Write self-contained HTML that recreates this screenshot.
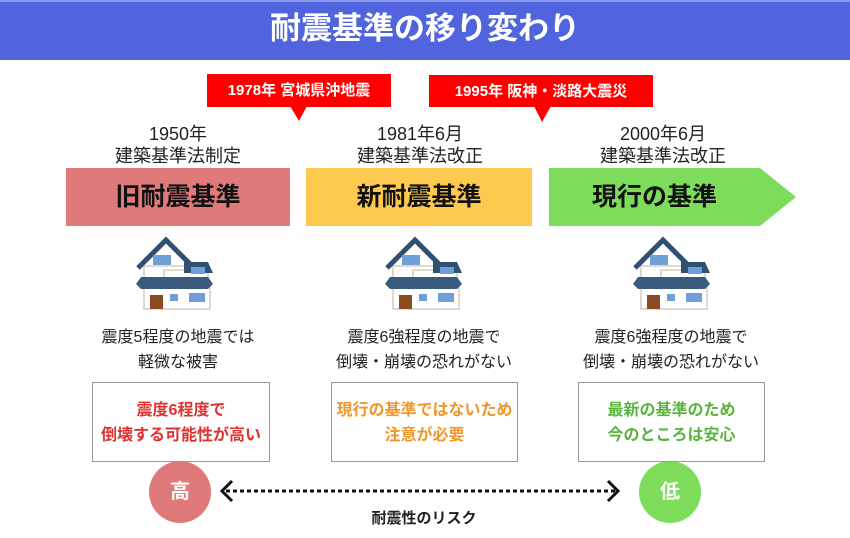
<!DOCTYPE html>
<html><head><meta charset="utf-8"><style>
body{margin:0;width:850px;height:538px;background:#fff;position:relative;overflow:hidden;font-family:"Liberation Sans","Noto Sans CJK JP",sans-serif;}
.a{position:absolute;text-align:center;white-space:nowrap;}
.hdr{left:0;top:0;width:850px;height:60px;background:#5064dd;border-top:2px solid #8896ea;box-sizing:border-box;}
.t{left:0;width:850px;top:9px;font-size:31px;font-weight:bold;color:#fff;line-height:40px;}
.cb{background:#f00;color:#fff;font-size:15px;font-weight:bold;line-height:33px;}
.yr{font-size:18px;line-height:22px;color:#222;width:240px;}
.bar{top:168px;height:58px;line-height:58px;font-size:25px;font-weight:bold;color:#111;}
.d{font-size:16px;line-height:25px;color:#222;width:260px;}
.bx{top:382px;height:80px;border:1.5px solid #999;box-sizing:border-box;font-size:16px;font-weight:bold;line-height:25px;padding-top:15px;}
.c{width:62px;height:62px;border-radius:50%;color:#fff;font-size:20px;font-weight:bold;line-height:62px;top:461px;}
</style></head><body>
<div class="a hdr"></div>
<div class="a t">耐震基準の移り変わり</div>
<div class="a cb" style="left:207px;top:74px;width:184px;height:33px;">1978年 宮城県沖地震</div>
<div class="a cb" style="left:429px;top:75px;width:224px;height:32px;">1995年 阪神・淡路大震災</div>
<svg class="a" style="left:0;top:0" width="850" height="538">
<polygon points="290,106 307,106 299,121" fill="#f00"/>
<polygon points="534,106 551,106 542,122" fill="#f00"/>
<polygon points="549,168 760,168 796,197 760,226 549,226" fill="#7ddc5a"/>
<defs><g id="h">
<polygon points="4,38 30,10 56,38" fill="#fff"/>
<rect x="8" y="30" width="44" height="12" fill="#fff" stroke="#d8ccb8" stroke-width="1.5"/>
<rect x="8" y="45" width="66" height="28" fill="#fff" stroke="#d8ccb8" stroke-width="1.5"/>
<rect x="28" y="34" width="44" height="12" fill="#fff" stroke="#d8ccb8" stroke-width="1.5"/>
<polyline points="2,32 30,4 58,32" fill="none" stroke="#2f5070" stroke-width="5"/>
<polygon points="48,26 72,26 77,37 48,37" fill="#2f5070"/>
<polygon points="0,48 5,41 72,41 77,48 72,53 5,53" fill="#3a5a7e"/>
<rect x="17" y="19" width="18" height="10" fill="#6f9fd8"/>
<rect x="55" y="31" width="14" height="7" fill="#6f9fd8"/>
<rect x="14" y="59" width="13" height="14" fill="#8a4a22"/>
<rect x="34" y="58" width="8" height="7" fill="#6f9fd8"/>
<rect x="53" y="57" width="16" height="9" fill="#6f9fd8"/>
</g></defs>
<use href="#h" x="136" y="236"/>
<use href="#h" x="385" y="236"/>
<use href="#h" x="633" y="236"/>
<circle cx="180" cy="492" r="31" fill="#e07a7a"/>
<circle cx="670" cy="492" r="31" fill="#7ddc5a"/>
<line x1="226" y1="491" x2="616" y2="491" stroke="#111" stroke-width="3" stroke-dasharray="4,3"/>
<polyline points="232,481 222,491 232,501" fill="none" stroke="#111" stroke-width="3"/>
<polyline points="608,481 618,491 608,501" fill="none" stroke="#111" stroke-width="3"/>
</svg>
<div class="a yr" style="left:58px;top:123px;">1950年<br>建築基準法制定</div>
<div class="a yr" style="left:300px;top:123px;">1981年6月<br>建築基準法改正</div>
<div class="a yr" style="left:543px;top:123px;">2000年6月<br>建築基準法改正</div>
<div class="a bar" style="left:66px;width:224px;background:#e07a7a;">旧耐震基準</div>
<div class="a bar" style="left:306px;width:226px;background:#fdc94f;">新耐震基準</div>
<div class="a bar" style="left:549px;width:211px;">現行の基準</div>
<div class="a d" style="left:48px;top:325px;">震度5程度の地震では<br>軽微な被害</div>
<div class="a d" style="left:294px;top:325px;">震度6強程度の地震で<br>倒壊・崩壊の恐れがない</div>
<div class="a d" style="left:541px;top:325px;">震度6強程度の地震で<br>倒壊・崩壊の恐れがない</div>
<div class="a bx" style="left:92px;width:178px;color:#e03030;">震度6程度で<br>倒壊する可能性が高い</div>
<div class="a bx" style="left:331px;width:187px;color:#f0962a;">現行の基準ではないため<br>注意が必要</div>
<div class="a bx" style="left:578px;width:187px;color:#5ab43c;">最新の基準のため<br>今のところは安心</div>
<div class="a c" style="left:149px;">高</div>
<div class="a c" style="left:639px;">低</div>
<div class="a" style="left:324px;width:200px;top:508px;font-size:15px;font-weight:bold;line-height:22px;color:#222;">耐震性のリスク</div>
</body></html>
